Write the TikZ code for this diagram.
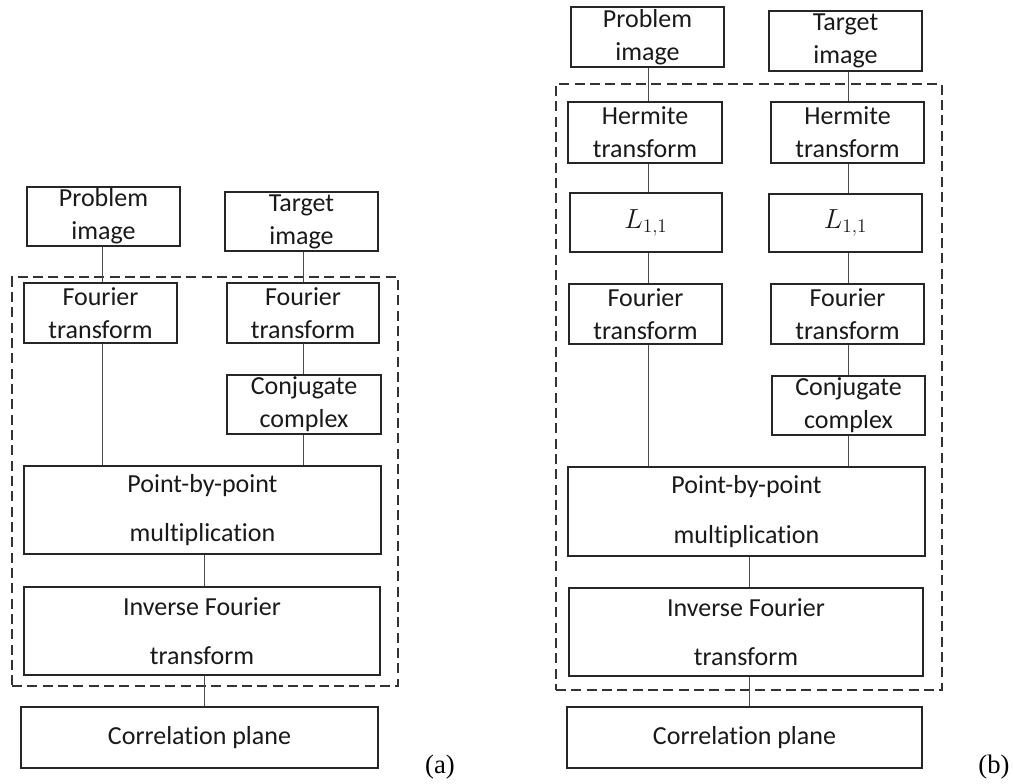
\documentclass[tikz,border=0pt]{standalone}
\usepackage{fontspec}
\setmainfont{Carlito}[Ligatures=NoCommon]
\newfontfamily\timesfont{Liberation Serif}
\begin{document}
\begin{tikzpicture}[x=0.75pt,y=-0.75pt,
  sz/.style 2 args={minimum width=#1*0.75pt, minimum height=#2*0.75pt},
  box/.style={draw=black!85, line width=1.1pt, inner sep=0pt, align=center,
    font=\fontsize{19.5}{24.75}\selectfont, text=black!90},
  wire/.style={draw=black!70, line width=0.7pt},
  frame/.style={draw=black!80, line width=1.1pt, dash pattern=on 7.5pt off 4pt, inner sep=0pt},
  tag/.style={font=\timesfont\fontsize{20}{24}\selectfont, inner sep=0pt}]
\useasboundingbox (0,0) rectangle (1013,783);

% ---------------- (a) ----------------
\node[frame, sz={386}{409}] (frA) at (205,481.5) {};
\node[box, sz={153}{59}] (pA) at (103.5,216.5) {Problem\\image};
\node[box, sz={153}{59}] (tA) at (301.5,221.5) {Target\\image};
\node[box, sz={153}{60}] (flA) at (100.5,313) {Fourier\\transform};
\node[box, sz={152}{60}] (frtA) at (303,313) {Fourier\\transform};
\node[box, sz={154}{59}] (ccA) at (304,404.5) {Conjugate\\complex};
\node[box, sz={357}{88}] (pbA) at (202.5,510) {Point-by-point\\[12.5pt]multiplication};
\node[box, sz={356}{88}] (ifA) at (202,631) {Inverse Fourier\\[12.5pt]transform};
\node[box, sz={357}{61}] (cpA) at (199.5,737.5) {Correlation plane};
\node[tag] (labA) at (440,767) {(a)};

\coordinate (a1) at (102,0);
\coordinate (a2) at (303,0);
\coordinate (a3) at (204,0);
\draw[wire] (pA.south -| a1) -- (flA.north -| a1);
\draw[wire] (flA.south -| a1) -- (pbA.north -| a1);
\draw[wire] (tA.south -| a2) -- (frtA.north -| a2);
\draw[wire] (frtA.south -| a2) -- (ccA.north -| a2);
\draw[wire] (ccA.south -| a2) -- (pbA.north -| a2);
\draw[wire] (pbA.south -| a3) -- (ifA.north -| a3);
\draw[wire] (ifA.south -| a3) -- (cpA.north -| a3);

% ---------------- (b) ----------------
\node[frame, sz={386}{606}] (frB) at (749,387) {};
\node[box, sz={153}{60}] (pB) at (647.5,37) {Problem\\image};
\node[box, sz={153}{60}] (tB) at (845.5,41) {Target\\image};
\node[box, sz={154}{61}] (hlB) at (645,132.5) {Hermite\\transform};
\node[box, sz={153}{61}] (hrB) at (847.5,132.5) {Hermite\\transform};
\node[box, sz={152}{59}] (llB) at (646,222.5) {$L_{1,1}$};
\node[box, sz={153}{58}] (lrB) at (845.5,223) {$L_{1,1}$};
\node[box, sz={153}{60}] (flB) at (645.5,314) {Fourier\\transform};
\node[box, sz={153}{60}] (frtB) at (847.5,314) {Fourier\\transform};
\node[box, sz={153}{59}] (ccB) at (848.5,405.5) {Conjugate\\complex};
\node[box, sz={357}{89}] (pbB) at (746.5,511.5) {Point-by-point\\[12.5pt]multiplication};
\node[box, sz={354}{88}] (ifB) at (746,632) {Inverse Fourier\\[12.5pt]transform};
\node[box, sz={355}{61}] (cpB) at (744.5,737.5) {Correlation plane};
\node[tag] (labB) at (994,767) {(b)};

\coordinate (b1) at (648,0);
\coordinate (b2) at (848,0);
\coordinate (b3) at (749,0);
\draw[wire] (pB.south -| b1) -- (hlB.north -| b1);
\draw[wire] (hlB.south -| b1) -- (llB.north -| b1);
\draw[wire] (llB.south -| b1) -- (flB.north -| b1);
\draw[wire] (flB.south -| b1) -- (pbB.north -| b1);
\draw[wire] (tB.south -| b2) -- (hrB.north -| b2);
\draw[wire] (hrB.south -| b2) -- (lrB.north -| b2);
\draw[wire] (lrB.south -| b2) -- (frtB.north -| b2);
\draw[wire] (frtB.south -| b2) -- (ccB.north -| b2);
\draw[wire] (ccB.south -| b2) -- (pbB.north -| b2);
\draw[wire] (pbB.south -| b3) -- (ifB.north -| b3);
\draw[wire] (ifB.south -| b3) -- (cpB.north -| b3);
\end{tikzpicture}
\end{document}
